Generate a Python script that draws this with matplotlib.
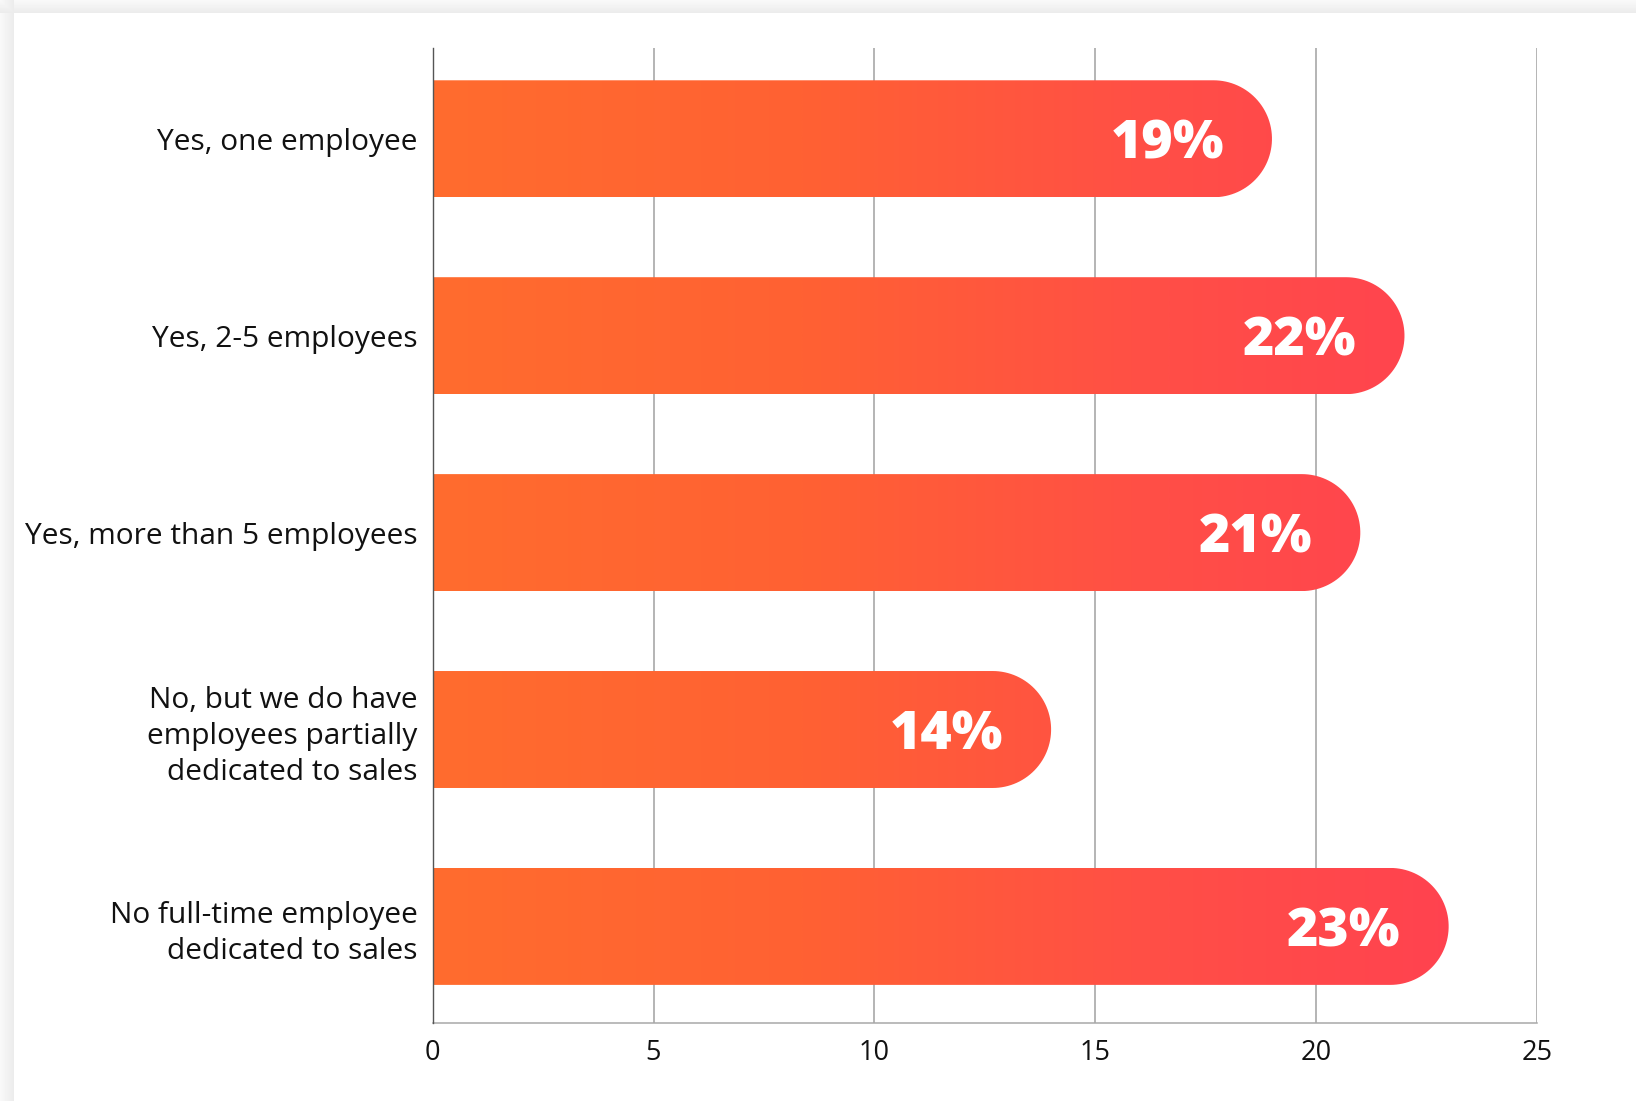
import numpy as np
import matplotlib
matplotlib.use("Agg")
import matplotlib.pyplot as plt
from matplotlib.path import Path
from matplotlib.patches import PathPatch
from matplotlib.colors import LinearSegmentedColormap

# Survey responses: share of companies with full-time sales staff
categories = [
    "Yes, one employee",
    "Yes, 2-5 employees",
    "Yes, more than 5 employees",
    "No, but we do have\nemployees partially\ndedicated to sales",
    "No full-time employee\ndedicated to sales",
]
values = [19, 22, 21, 14, 23]
value_labels = ["19%", "22%", "21%", "14%", "23%"]
x_ticks = [0, 5, 10, 15, 20, 25]

W, H, DPI = 1636, 1101, 100
plt.rcParams["font.family"] = ["Open Sans", "DejaVu Sans"]

fig = plt.figure(figsize=(W / DPI, H / DPI), dpi=DPI, facecolor="white")

# Card shadow along the top and left edges
bg = fig.add_axes([0, 0, 1, 1], zorder=-10)
bg.set_axis_off()
img = np.ones((H, W))
top_band, left_band = 13, 14
for r in range(top_band):
    img[r, :] = 0.975 - 0.055 * (r / top_band)
for c in range(left_band):
    col = 0.975 - 0.055 * (c / left_band)
    img[:, c] = np.minimum(img[:, c], col)
bg.imshow(img, cmap="gray", vmin=0, vmax=1, extent=[0, 1, 0, 1], aspect="auto",
          interpolation="bilinear")
bg.set_xlim(0, 1)
bg.set_ylim(0, 1)

left = 432.7 / W
right = 1537 / W
top = 1 - 48 / H
bottom = 1 - 1022.7 / H
ax = fig.add_axes([left, bottom, right - left, top - bottom])
ax.set_facecolor("none")

ax.set_xlim(0, 25)
ax.set_ylim(4.489, -0.461)

bar_h = 0.594
ypos = np.arange(len(categories))

# Gradient from orange to red across the value range
cmap = LinearSegmentedColormap.from_list("warm", ["#FF6C2E", "#FF6133", "#FF4E47", "#FF3F52"])
grad = np.linspace(0, 1, 512).reshape(1, -1)

fig.canvas.draw()
ax_px_w = ax.get_window_extent().width
ax_px_h = ax.get_window_extent().height
px_per_x = ax_px_w / 25.0
px_per_y = ax_px_h / (4.489 + 0.461)

for y, v in zip(ypos, values):
    ry = bar_h / 2
    r_px = ry * px_per_y
    rx = r_px / px_per_x
    x0 = 0.0
    xc = v - rx
    t = np.linspace(-np.pi / 2, np.pi / 2, 60)
    arc_x = xc + rx * np.cos(t)
    arc_y = y + ry * np.sin(t)
    verts = [(x0, y - ry)] + list(zip(arc_x, arc_y)) + [(x0, y + ry), (x0, y - ry)]
    codes = [Path.MOVETO] + [Path.LINETO] * (len(verts) - 2) + [Path.CLOSEPOLY]
    patch = PathPatch(Path(verts, codes), facecolor="none", edgecolor="none", zorder=3)
    ax.add_patch(patch)
    im = ax.imshow(grad, cmap=cmap, extent=[0, 25, y + ry, y - ry], aspect="auto",
                   zorder=3, interpolation="bilinear")
    im.set_clip_path(patch)

for y, v, lab in zip(ypos, values, value_labels):
    ax.annotate(lab, xy=(v, y), xytext=(-34.5, 0), textcoords="offset points",
                ha="right", va="center_baseline", color="white", fontsize=38.5,
                fontweight=800, zorder=5)

# Vertical gridlines
for xt in x_ticks[1:]:
    ax.axvline(xt, color="#A0A0A0", lw=1.1, zorder=1)

ax.set_yticks(ypos)
ax.set_yticklabels(categories, fontsize=21.5, color="#111111", linespacing=1.32)
ax.set_xticks(x_ticks)
ax.set_xticklabels([str(t) for t in x_ticks], fontsize=19.5, color="#111111")
ax.tick_params(axis="both", length=0)
ax.tick_params(axis="y", pad=11)
ax.tick_params(axis="x", pad=12)

for s in ["top", "right"]:
    ax.spines[s].set_visible(False)
ax.spines["left"].set_color("#555555")
ax.spines["left"].set_linewidth(1.0)
ax.spines["left"].set_zorder(6)
ax.spines["bottom"].set_color("#A8A8A8")
ax.spines["bottom"].set_linewidth(1.1)

fig.savefig("out.png", dpi=DPI, facecolor=fig.get_facecolor())
